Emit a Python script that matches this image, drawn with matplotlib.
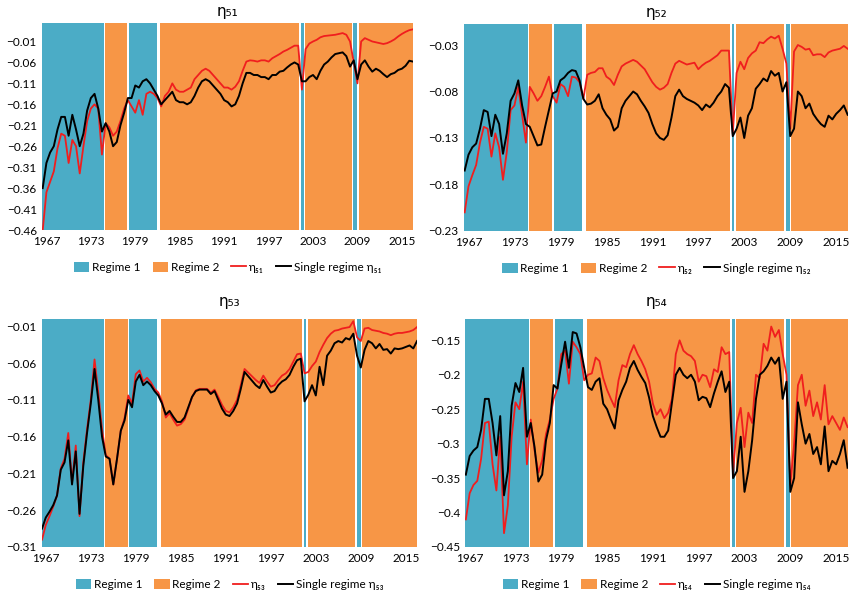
import numpy as np
import matplotlib
matplotlib.use("Agg")
import matplotlib.pyplot as plt
from matplotlib.patches import Patch
from matplotlib.lines import Line2D
from matplotlib.ticker import FuncFormatter

plt.rcParams['font.family'] = ['Lato', 'DejaVu Sans']

# half-yearly observations, 1966.5 .. 2016.5
years = np.arange(1966.5, 2016.75, 0.5)

# regime periods (decimal years)
span_start = [1966.4, 1974.88, 1978.12, 1982.31, 2001.38, 2001.92, 2008.45, 2009.15]
span_end = [1974.74, 1977.95, 1981.87, 2001.11, 2001.72, 2008.23, 2008.99, 2016.6]
span_regime = [1, 2, 1, 2, 1, 2, 1, 2]

# eta_51
r51 = [-0.46, -0.37, -0.345, -0.32, -0.265, -0.23, -0.235, -0.30, -0.245, -0.26,
       -0.325, -0.26, -0.20, -0.17, -0.16, -0.17, -0.28, -0.205, -0.215, -0.235,
       -0.225, -0.20, -0.17, -0.15, -0.165, -0.18, -0.15, -0.185, -0.135, -0.13,
       -0.135, -0.145, -0.165, -0.14, -0.13, -0.11, -0.125, -0.13, -0.13, -0.125,
       -0.12, -0.10, -0.09, -0.08, -0.075, -0.08, -0.09, -0.10, -0.11, -0.12,
       -0.12, -0.125, -0.118, -0.105, -0.08, -0.058, -0.055, -0.056, -0.058, -0.055,
       -0.055, -0.058, -0.05, -0.045, -0.04, -0.034, -0.03, -0.025, -0.02, -0.02,
       -0.125, -0.028, -0.015, -0.01, -0.006, 0.0, 0.003, 0.004, 0.005, 0.006,
       0.008, 0.01, 0.006, -0.01, -0.06, -0.11, -0.01, -0.002, -0.006, -0.01,
       -0.012, -0.014, -0.016, -0.014, -0.01, -0.005, 0.002, 0.008, 0.013, 0.017,
       0.019]
b51 = [-0.36, -0.30, -0.275, -0.26, -0.22, -0.19, -0.19, -0.235, -0.185, -0.22,
       -0.26, -0.23, -0.175, -0.145, -0.135, -0.17, -0.225, -0.205, -0.225, -0.26,
       -0.25, -0.21, -0.18, -0.145, -0.145, -0.115, -0.12, -0.105, -0.10, -0.11,
       -0.125, -0.14, -0.16, -0.15, -0.14, -0.13, -0.15, -0.155, -0.155, -0.16,
       -0.155, -0.14, -0.12, -0.105, -0.10, -0.105, -0.115, -0.125, -0.135, -0.15,
       -0.155, -0.165, -0.16, -0.14, -0.11, -0.085, -0.085, -0.09, -0.09, -0.095,
       -0.095, -0.10, -0.09, -0.09, -0.082, -0.08, -0.072, -0.065, -0.06, -0.065,
       -0.105, -0.105, -0.095, -0.09, -0.10, -0.08, -0.065, -0.058, -0.048, -0.04,
       -0.038, -0.036, -0.045, -0.07, -0.055, -0.10, -0.065, -0.055, -0.07, -0.082,
       -0.075, -0.08, -0.088, -0.095, -0.088, -0.085, -0.078, -0.075, -0.068, -0.056,
       -0.058]

# eta_52
r52 = [-0.21, -0.182, -0.17, -0.159, -0.135, -0.118, -0.12, -0.15, -0.125, -0.14,
       -0.175, -0.145, -0.10, -0.095, -0.075, -0.105, -0.135, -0.075, -0.082, -0.09,
       -0.085, -0.075, -0.064, -0.085, -0.092, -0.072, -0.075, -0.085, -0.064, -0.065,
       -0.07, -0.088, -0.062, -0.06, -0.059, -0.055, -0.055, -0.064, -0.067, -0.073,
       -0.062, -0.053, -0.05, -0.048, -0.046, -0.048, -0.052, -0.056, -0.063, -0.07,
       -0.075, -0.078, -0.076, -0.072, -0.06, -0.05, -0.047, -0.049, -0.051, -0.05,
       -0.049, -0.056, -0.052, -0.049, -0.047, -0.044, -0.041, -0.036, -0.036, -0.036,
       -0.126, -0.06, -0.048, -0.056, -0.044, -0.039, -0.036, -0.027, -0.028, -0.024,
       -0.021, -0.023, -0.02, -0.034, -0.05, -0.12, -0.037, -0.03, -0.032, -0.035,
       -0.034, -0.041, -0.04, -0.04, -0.043, -0.038, -0.036, -0.035, -0.034, -0.031,
       -0.034]
b52 = [-0.165, -0.148, -0.14, -0.136, -0.12, -0.10, -0.102, -0.128, -0.105, -0.115,
       -0.147, -0.125, -0.09, -0.082, -0.068, -0.095, -0.115, -0.118, -0.128, -0.138,
       -0.137, -0.118, -0.10, -0.082, -0.08, -0.068, -0.065, -0.06, -0.057, -0.058,
       -0.068, -0.088, -0.094, -0.093, -0.09, -0.083, -0.098, -0.105, -0.11, -0.122,
       -0.118, -0.098, -0.09, -0.085, -0.08, -0.083, -0.09, -0.096, -0.103, -0.115,
       -0.125, -0.13, -0.132, -0.127, -0.108, -0.085, -0.078, -0.085, -0.088, -0.09,
       -0.092, -0.095, -0.10, -0.094, -0.097, -0.092, -0.085, -0.08, -0.072, -0.076,
       -0.128, -0.12, -0.108, -0.13, -0.106, -0.098, -0.077, -0.072, -0.066, -0.069,
       -0.058, -0.063, -0.06, -0.08, -0.07, -0.128, -0.12, -0.08, -0.085, -0.098,
       -0.093, -0.104, -0.11, -0.115, -0.118, -0.106, -0.11, -0.104, -0.10, -0.095,
       -0.105]

# eta_53
r53 = [-0.30, -0.28, -0.268, -0.255, -0.24, -0.203, -0.19, -0.155, -0.222, -0.172,
       -0.268, -0.195, -0.15, -0.11, -0.055, -0.10, -0.15, -0.185, -0.19, -0.225,
       -0.19, -0.152, -0.135, -0.104, -0.115, -0.075, -0.07, -0.085, -0.08, -0.086,
       -0.095, -0.10, -0.112, -0.134, -0.128, -0.137, -0.145, -0.143, -0.137, -0.122,
       -0.106, -0.097, -0.095, -0.095, -0.095, -0.10, -0.096, -0.106, -0.117, -0.125,
       -0.127, -0.12, -0.11, -0.09, -0.068, -0.073, -0.078, -0.083, -0.087, -0.077,
       -0.085, -0.092, -0.09, -0.083, -0.077, -0.074, -0.068, -0.058, -0.048, -0.047,
       -0.074, -0.072, -0.064, -0.058, -0.045, -0.035, -0.026, -0.02, -0.016, -0.015,
       -0.013, -0.012, -0.011, -0.003, -0.025, -0.03, -0.013, -0.012, -0.015, -0.016,
       -0.017, -0.019, -0.02, -0.022, -0.02, -0.019, -0.019, -0.018, -0.017, -0.015,
       -0.011]
b53 = [-0.285, -0.27, -0.262, -0.253, -0.24, -0.205, -0.195, -0.165, -0.225, -0.18,
       -0.265, -0.20, -0.155, -0.115, -0.068, -0.11, -0.16, -0.187, -0.19, -0.225,
       -0.19, -0.152, -0.138, -0.11, -0.12, -0.085, -0.076, -0.09, -0.085, -0.09,
       -0.098, -0.104, -0.115, -0.13, -0.125, -0.133, -0.14, -0.14, -0.134, -0.12,
       -0.106, -0.098, -0.096, -0.096, -0.096, -0.102, -0.098, -0.11, -0.122, -0.13,
       -0.132, -0.125, -0.115, -0.095, -0.072, -0.078, -0.084, -0.09, -0.094, -0.083,
       -0.092, -0.10, -0.098, -0.09, -0.085, -0.082, -0.076, -0.065, -0.056, -0.054,
       -0.112, -0.103, -0.09, -0.104, -0.065, -0.09, -0.05, -0.043, -0.033, -0.03,
       -0.032, -0.026, -0.028, -0.02, -0.05, -0.066, -0.042, -0.03, -0.033, -0.04,
       -0.034, -0.042, -0.041, -0.047, -0.04, -0.041, -0.04, -0.038, -0.036, -0.04,
       -0.03]

# eta_54
r54 = [-0.41, -0.372, -0.36, -0.354, -0.322, -0.27, -0.268, -0.33, -0.368, -0.29,
       -0.43, -0.39, -0.29, -0.24, -0.25, -0.21, -0.33, -0.265, -0.31, -0.342,
       -0.324, -0.286, -0.265, -0.235, -0.22, -0.17, -0.165, -0.213, -0.152, -0.16,
       -0.17, -0.208, -0.20, -0.198, -0.175, -0.18, -0.205, -0.222, -0.235, -0.247,
       -0.208, -0.186, -0.189, -0.17, -0.157, -0.17, -0.18, -0.192, -0.21, -0.242,
       -0.258, -0.25, -0.263, -0.255, -0.235, -0.17, -0.15, -0.165, -0.17, -0.173,
       -0.18, -0.21, -0.20, -0.202, -0.218, -0.192, -0.196, -0.16, -0.17, -0.167,
       -0.345, -0.27, -0.248, -0.305, -0.255, -0.27, -0.20, -0.205, -0.155, -0.165,
       -0.13, -0.145, -0.135, -0.17, -0.20, -0.36, -0.30, -0.215, -0.20, -0.245,
       -0.223, -0.26, -0.24, -0.265, -0.215, -0.272, -0.26, -0.27, -0.28, -0.262,
       -0.276]
b54 = [-0.345, -0.318, -0.31, -0.305, -0.28, -0.235, -0.235, -0.27, -0.317, -0.26,
       -0.375, -0.34, -0.245, -0.212, -0.225, -0.19, -0.29, -0.27, -0.305, -0.355,
       -0.345, -0.295, -0.27, -0.215, -0.22, -0.185, -0.152, -0.19, -0.138, -0.14,
       -0.16, -0.19, -0.218, -0.222, -0.21, -0.205, -0.242, -0.25, -0.265, -0.278,
       -0.237, -0.222, -0.21, -0.19, -0.18, -0.193, -0.203, -0.212, -0.233, -0.26,
       -0.276, -0.29, -0.29, -0.281, -0.24, -0.20, -0.19, -0.20, -0.205, -0.20,
       -0.21, -0.237, -0.232, -0.234, -0.247, -0.227, -0.21, -0.195, -0.225, -0.21,
       -0.35, -0.34, -0.29, -0.37, -0.34, -0.295, -0.235, -0.20, -0.195, -0.187,
       -0.175, -0.184, -0.175, -0.235, -0.21, -0.37, -0.35, -0.24, -0.272, -0.30,
       -0.286, -0.315, -0.305, -0.33, -0.275, -0.34, -0.325, -0.33, -0.315, -0.295,
       -0.335]

sub = {"51": "₅₁", "52": "₅₂", "53": "₅₃", "54": "₅₄"}
yticks = {
    "51": [-0.46, -0.41, -0.36, -0.31, -0.26, -0.21, -0.16, -0.11, -0.06, -0.01],
    "52": [-0.23, -0.18, -0.13, -0.08, -0.03],
    "53": [-0.31, -0.26, -0.21, -0.16, -0.11, -0.06, -0.01],
    "54": [-0.45, -0.4, -0.35, -0.3, -0.25, -0.2, -0.15],
}
xticks = [1967, 1973, 1979, 1985, 1991, 1997, 2003, 2009, 2015]

blue = "#4BACC6"
orange = "#F79646"
red = "#F01E1E"

fig = plt.figure(figsize=(8.5, 5.97), dpi=100)

panels = [
    ("51", r51, b51, [0.0498, 0.6147, 0.4365, 0.3467], (-0.46, 0.034), "%.2f", 5, -0.18),
    ("52", r52, b52, [0.5462, 0.6131, 0.4515, 0.3467], (-0.23, -0.0074), "%.2f", 5, -0.18),
    ("53", r53, b53, [0.0490, 0.0838, 0.4421, 0.3819], (-0.31, 0.0), "%.2f", 9, -0.165),
    ("54", r54, b54, [0.5476, 0.0838, 0.4500, 0.3819], (-0.45, -0.119), "%g", 9, -0.165),
]

for key, red_vals, black_vals, pos, ylim, fmt, tpad, legy in panels:
    ax = fig.add_axes(pos)
    for s, e, r in zip(span_start, span_end, span_regime):
        ax.axvspan(s, e, color=blue if r == 1 else orange, lw=0, zorder=0)
    ax.plot(years, red_vals, color=red, lw=1.3, zorder=3)
    ax.plot(years, black_vals, color="black", lw=1.4, zorder=4)

    ax.set_xlim(1966.45, 2016.55)
    ax.set_ylim(*ylim)
    ax.set_xticks(xticks)
    ax.set_yticks(yticks[key])
    ax.yaxis.set_major_formatter(
        FuncFormatter(lambda v, p, f=fmt: (f % v).replace("-", "\u2212")))
    ax.tick_params(length=0, labelsize=8.5, pad=4)
    for sp in ax.spines.values():
        sp.set_visible(False)

    ax.set_title("η" + sub[key], fontsize=11, pad=tpad,
                 family=["DejaVu Sans"])

    handles = [
        Patch(facecolor=blue, edgecolor="none", label="Regime 1"),
        Patch(facecolor=orange, edgecolor="none", label="Regime 2"),
        Line2D([], [], color=red, lw=1.3, label="η" + sub[key]),
        Line2D([], [], color="black", lw=1.4, label="Single regime η" + sub[key]),
    ]
    leg = ax.legend(handles=handles, loc="center", bbox_to_anchor=(0.5, legy),
                    ncol=4, frameon=False, fontsize=8.5, handlelength=1.3,
                    handleheight=0.9, handletextpad=0.25, columnspacing=1.0)
    for t in leg.get_texts():
        t.set_family(["Lato", "DejaVu Sans"])

fig.savefig("out.png", dpi=100)
